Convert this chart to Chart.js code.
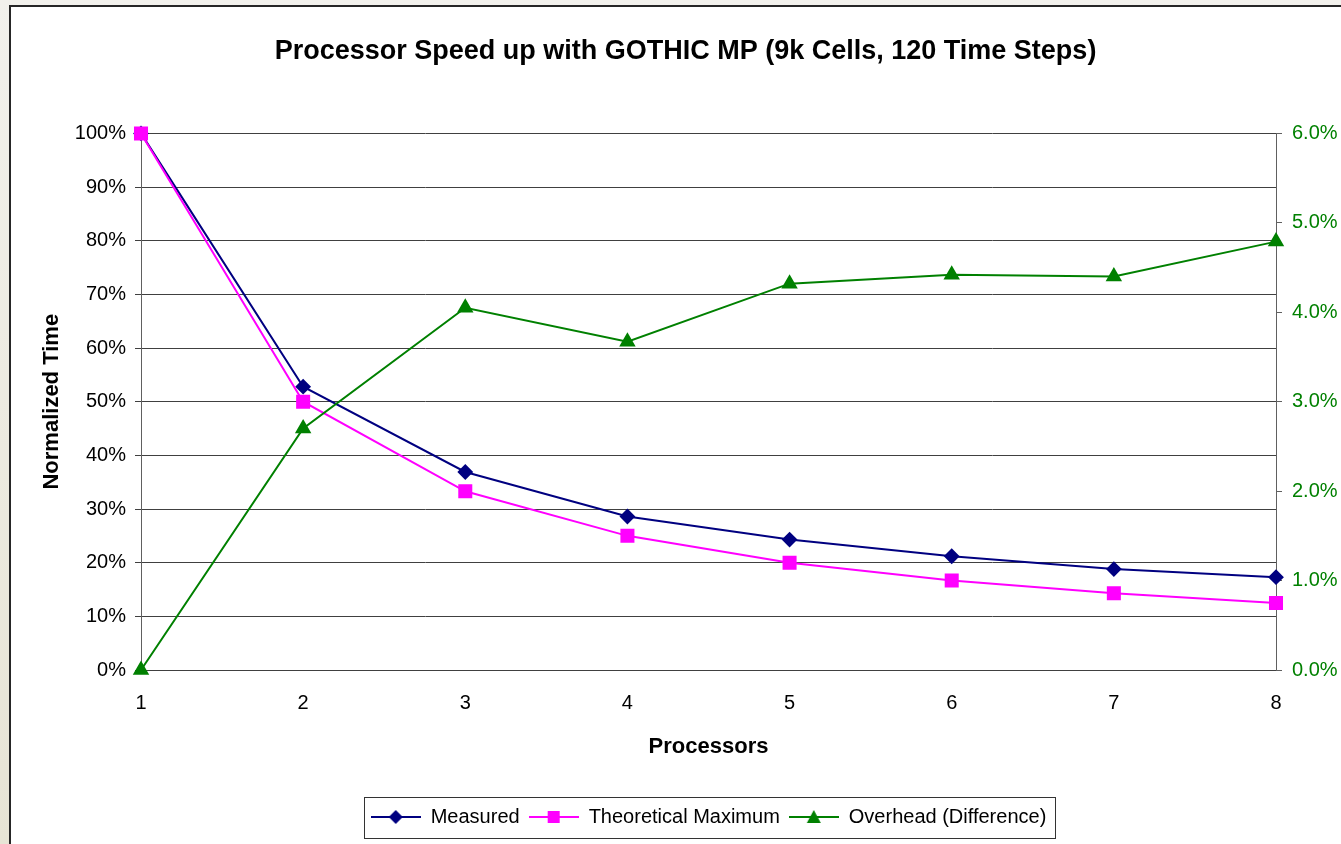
<!DOCTYPE html>
<html>
<head>
<meta charset="utf-8">
<script src="https://cdn.jsdelivr.net/npm/chart.js"></script>
<style>
html, body { margin: 0; padding: 0; overflow: hidden; background: #efeee8; }
canvas { display: block; }
</style>
</head>
<body>
<canvas id="myChart" width="1361" height="844"></canvas>
<script>
// data
const processors = ["1", "2", "3", "4", "5", "6", "7", "8"];
const measured = [100, 52.8, 36.9, 28.6, 24.3, 21.2, 18.8, 17.3];
const theoretical = [100, 50, 33.3, 25, 20, 16.7, 14.3, 12.5];
const overhead = [0, 2.7, 4.05, 3.67, 4.32, 4.42, 4.40, 4.79];

const NAVY = "#000080", PINK = "#FF00FF", GREEN = "#008000";
Chart.defaults.font.family = '"Liberation Sans", Arial, sans-serif';
Chart.defaults.color = "#000";

// legend icon: short line with the marker in the middle
function legendIcon(color, shape) {
    const c = document.createElement("canvas");
    c.width = 50; c.height = 18;
    const x = c.getContext("2d");
    x.strokeStyle = color; x.lineWidth = 2;
    x.beginPath(); x.moveTo(0, 9); x.lineTo(50, 9); x.stroke();
    x.fillStyle = color;
    x.beginPath();
    if (shape === "rectRot") { x.moveTo(25, 2); x.lineTo(32, 9); x.lineTo(25, 16); x.lineTo(18, 9); }
    else if (shape === "rect") { x.rect(19, 3, 12, 12); }
    else { x.moveTo(25, 2); x.lineTo(32, 15); x.lineTo(18, 15); }
    x.closePath(); x.fill();
    return c;
}

const frame = {
    id: "frame",
    beforeDraw(chart) {
        const ctx = chart.ctx, w = chart.width, h = chart.height;
        ctx.save();
        const g = ctx.createLinearGradient(0, 0, 0, h);
        g.addColorStop(0, "#f2f1ec");
        g.addColorStop(1, "#e7e4d5");
        ctx.fillStyle = g;
        ctx.fillRect(0, 0, w, h);
        ctx.fillStyle = "#fff";
        ctx.fillRect(10, 6, w - 10, h - 6);
        ctx.strokeStyle = "#262626";
        ctx.lineWidth = 2;
        ctx.beginPath(); ctx.moveTo(10, h); ctx.lineTo(10, 6); ctx.lineTo(w, 6); ctx.stroke();
        ctx.restore();
    },
    afterDraw(chart) {
        // box round the legend
        const hb = chart.legend.legendHitBoxes;
        if (!hb || !hb.length) return;
        const last = hb[hb.length - 1];
        const ctx = chart.ctx;
        ctx.save();
        ctx.strokeStyle = "#333";
        ctx.lineWidth = 1;
        ctx.strokeRect(Math.round(hb[0].left - 7) + 0.5, Math.round(hb[0].top - 10) + 0.5,
            Math.round(last.left + last.width + 15 - hb[0].left), Math.round(hb[0].height + 21));
        ctx.restore();
    }
};

new Chart(document.getElementById("myChart"), {
    type: "line",
    data: {
        labels: processors,
        datasets: [
            {
                label: "Measured",
                data: measured,
                borderColor: NAVY, backgroundColor: NAVY,
                borderWidth: 2, pointStyle: "rectRot", pointRadius: 6.5,
                yAxisID: "y", order: 2, clip: false
            },
            {
                label: "Theoretical Maximum",
                data: theoretical,
                borderColor: PINK, backgroundColor: PINK,
                borderWidth: 2, pointStyle: "rect", pointRadius: 8.5,
                yAxisID: "y", order: 1, clip: false
            },
            {
                label: "Overhead (Difference)",
                data: overhead,
                borderColor: GREEN, backgroundColor: GREEN,
                borderWidth: 2, pointStyle: "triangle", pointRadius: 7.5,
                yAxisID: "y1", order: 0, clip: false
            }
        ]
    },
    options: {
        responsive: false,
        animation: false,
        layout: { padding: { left: 10, top: 6, right: 0, bottom: 7 } },
        plugins: {
            title: {
                display: true,
                text: "Processor Speed up with GOTHIC MP (9k Cells, 120 Time Steps)",
                color: "#000",
                font: { size: 27, weight: "bold" },
                padding: { top: 29, bottom: 66 }
            },
            legend: {
                position: "bottom",
                fullSize: false,
                labels: {
                    usePointStyle: true,
                    pointStyleWidth: 50,
                    padding: 9,
                    color: "#000",
                    font: { size: 20 },
                    generateLabels(chart) {
                        const shapes = ["rectRot", "rect", "triangle"];
                        return chart.data.datasets.map((ds, i) => ({
                            text: ds.label,
                            fillStyle: ds.borderColor,
                            strokeStyle: ds.borderColor,
                            lineWidth: 0,
                            pointStyle: legendIcon(ds.borderColor, shapes[i]),
                            hidden: false,
                            datasetIndex: i,
                            fontColor: "#000"
                        }));
                    }
                }
            },
            tooltip: { enabled: false }
        },
        scales: {
            x: {
                offset: false,
                grid: { display: false },
                border: { display: true, color: "#404040", width: 1 },
                ticks: { font: { size: 20 }, padding: 13, color: "#000" },
                title: {
                    display: true, text: "Processors", color: "#000",
                    font: { size: 22, weight: "bold" },
                    padding: { top: 0, bottom: 38 }
                },
                afterFit(scale) { scale.height = 128; }
            },
            y: {
                position: "left",
                min: 0, max: 100,
                ticks: { stepSize: 10, font: { size: 20 }, padding: 9, color: "#000",
                    callback: v => v + "%" },
                grid: { color: "#404040", lineWidth: 1, tickLength: 6 },
                border: { color: "#606060", width: 1 },
                title: {
                    display: true, text: "Normalized Time", color: "#000",
                    font: { size: 22, weight: "bold" },
                    padding: { top: 29, bottom: 0 }
                },
                afterFit(scale) { scale.width = 131; }
            },
            y1: {
                position: "right",
                min: 0, max: 6,
                ticks: { stepSize: 1, font: { size: 20 }, padding: 10, color: GREEN,
                    callback: v => v.toFixed(1) + "%" },
                grid: { drawOnChartArea: false, color: "#606060", tickLength: 6 },
                border: { color: "#606060", width: 1 },
                afterFit(scale) { scale.width = 85; }
            }
        }
    },
    plugins: [frame]
});
</script>
</body>
</html>
